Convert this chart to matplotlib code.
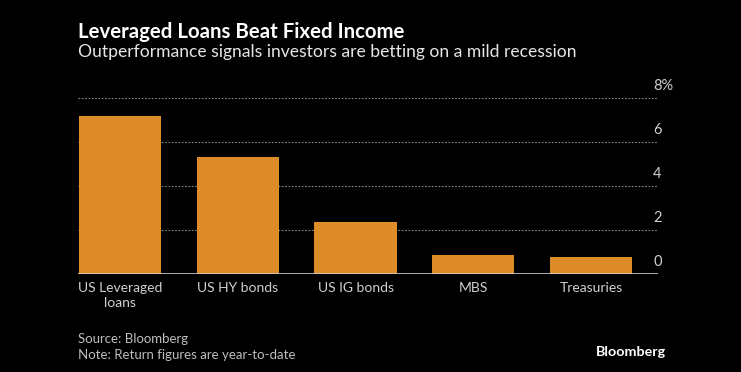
import matplotlib
matplotlib.use("Agg")
import matplotlib.pyplot as plt
from matplotlib import transforms

categories = ["US Leveraged\nloans", "US HY bonds", "US IG bonds", "MBS", "Treasuries"]
values = [7.2, 5.3, 2.35, 0.88, 0.79]
yticks = [0, 2, 4, 6, 8]
ytick_labels = ["0", "2", "4", "6", "8%"]

title = "Leveraged Loans Beat Fixed Income"
subtitle = "Outperformance signals investors are betting on a mild recession"
source = "Source: Bloomberg"
note = "Note: Return figures are year-to-date"

plt.rcParams['font.family'] = ['Lato', 'DejaVu Sans']

W, H = 741, 372
fig = plt.figure(figsize=(W / 100, H / 100), dpi=100, facecolor="black")
ax = fig.add_axes([78 / W, 1 - 274 / H, 580 / W, (274 - 98) / H])
ax.set_facecolor("black")

x = list(range(len(categories)))
ax.bar(x, values, width=0.7, color="#DE8C2A", zorder=2)
ax.set_xlim(-0.357, 4.569)
ax.set_ylim(0, 8)

for t in yticks[1:]:
    ax.axhline(t, color="#8a8a8a", lw=0.8, ls=(0, (1.5, 1.5)), zorder=1)
ax.axhline(0, color="#cccccc", lw=1.2, zorder=3)

for sp in ax.spines.values():
    sp.set_visible(False)
ax.set_xticks(x)
ax.set_xticklabels(categories, color="#d0d0d0", fontsize=10, linespacing=1.3)
ax.tick_params(axis="x", length=0, pad=6)
ax.set_yticks([])

trans = transforms.blended_transform_factory(ax.transAxes, ax.transData)
for t, lab in zip(yticks, ytick_labels):
    ax.annotate(lab, xy=(0.9915, t), xycoords=trans, xytext=(0, 8.5),
                textcoords="offset points", ha="left", va="center",
                color="#d0d0d0", fontsize=10.5, annotation_clip=False)

fig.text(78 / W, 1 - 32 / H, title, color="white", fontsize=14.7,
         fontweight="bold", ha="left", va="center")
fig.text(78 / W, 1 - 52 / H, subtitle, color="#e6e6e6", fontsize=12.6,
         ha="left", va="center")
fig.text(78 / W, 1 - 339 / H, source, color="#bdbdbd", fontsize=9.5,
         ha="left", va="center")
fig.text(78 / W, 1 - 355 / H, note, color="#bdbdbd", fontsize=9.5,
         ha="left", va="center")
fig.text(666 / W, 1 - 352 / H, "Bloomberg", color="white", fontsize=10.3,
         fontweight="bold", ha="right", va="center")

fig.savefig("out.png", dpi=100, facecolor="black")
